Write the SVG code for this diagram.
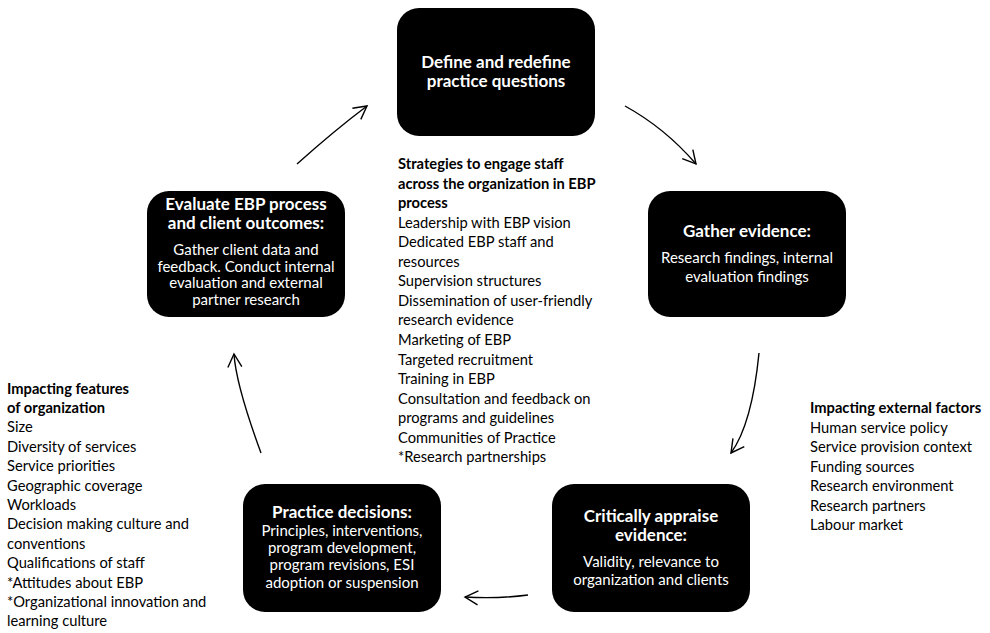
<svg xmlns="http://www.w3.org/2000/svg" width="990" height="633" viewBox="0 0 990 633">
<style>
.box{fill:#000;}
.t{font-family:Lato,"Liberation Sans",sans-serif;font-size:17px;font-weight:bold;fill:#fff;text-anchor:middle;}
.b{font-family:Lato,"Liberation Sans",sans-serif;font-size:15px;fill:#fff;text-anchor:middle;}
.s{font-family:Lato,"Liberation Sans",sans-serif;font-size:14.7px;fill:#000;}
.sb{font-weight:bold;}
.c{fill:none;stroke:#000;stroke-width:1.4;marker-end:url(#ah);}
</style>
<defs>
<marker id="ah" markerUnits="userSpaceOnUse" markerWidth="20" markerHeight="20" refX="0" refY="0" viewBox="-16 -10 20 20" orient="auto" overflow="visible">
<path d="M-13,-7 L0,0 L-13,7" fill="none" stroke="#000" stroke-width="1.4"/>
</marker>
</defs>
<rect width="990" height="633" fill="#fff"/>
<g id="connectors">
<path class="c" d="M297,164 Q335,130 367,106"/>
<path class="c" d="M625,106 Q665,128 696,164"/>
<path class="c" d="M759,353 Q752,424 731,453"/>
<path class="c" d="M528,595 Q497,599 465,597"/>
<path class="c" d="M261,453 Q236,385 234,354"/>
</g>
<g id="define">
<rect class="box" x="397" y="8" width="198" height="128" rx="22"/>
<text class="t" x="496" y="67.5">Define and redefine</text>
<text class="t" x="496" y="87">practice questions</text>
</g>
<g id="gather">
<rect class="box" x="648" y="191" width="198" height="126" rx="22"/>
<text class="t" x="747" y="237">Gather evidence:</text>
<text class="b" x="747" y="263">Research findings, internal</text>
<text class="b" x="747" y="282">evaluation findings</text>
</g>
<g id="appraise">
<rect class="box" x="552" y="484" width="198" height="128" rx="22"/>
<text class="t" x="651" y="521.5">Critically appraise</text>
<text class="t" x="651" y="540.5">evidence:</text>
<text class="b" x="651" y="567">Validity, relevance to</text>
<text class="b" x="651" y="584.5">organization and clients</text>
</g>
<g id="practice">
<rect class="box" x="243" y="484" width="198" height="128" rx="22"/>
<text class="t" x="342" y="517.5">Practice decisions:</text>
<text class="b" x="342" y="535.5">Principles, interventions,</text>
<text class="b" x="342" y="552.8">program development,</text>
<text class="b" x="342" y="570.1">program revisions, ESI</text>
<text class="b" x="342" y="587.5">adoption or suspension</text>
</g>
<g id="evaluate">
<rect class="box" x="147" y="191" width="198" height="126" rx="22"/>
<text class="t" x="246" y="209.5">Evaluate EBP process</text>
<text class="t" x="246" y="228.5">and client outcomes:</text>
<text class="b" x="246" y="255">Gather client data and</text>
<text class="b" x="246" y="271.5">feedback. Conduct internal</text>
<text class="b" x="246" y="288">evaluation and external</text>
<text class="b" x="246" y="304.5">partner research</text>
</g>
<g id="strategies">
<text class="s sb" x="398" y="169">Strategies to engage staff</text>
<text class="s sb" x="398" y="188.6">across the organization in EBP</text>
<text class="s sb" x="398" y="208.1">process</text>
<text class="s" x="398" y="227.7">Leadership with EBP vision</text>
<text class="s" x="398" y="247.2">Dedicated EBP staff and</text>
<text class="s" x="398" y="266.8">resources</text>
<text class="s" x="398" y="286.3">Supervision structures</text>
<text class="s" x="398" y="305.9">Dissemination of user-friendly</text>
<text class="s" x="398" y="325.4">research evidence</text>
<text class="s" x="398" y="345">Marketing of EBP</text>
<text class="s" x="398" y="364.5">Targeted recruitment</text>
<text class="s" x="398" y="384.1">Training in EBP</text>
<text class="s" x="398" y="403.6">Consultation and feedback on</text>
<text class="s" x="398" y="423.2">programs and guidelines</text>
<text class="s" x="398" y="442.7">Communities of Practice</text>
<text class="s" x="398" y="462.3">*Research partnerships</text>
</g>
<g id="org-features">
<text class="s sb" x="7" y="393.5">Impacting features</text>
<text class="s sb" x="7" y="412.9">of organization</text>
<text class="s" x="7" y="432.3">Size</text>
<text class="s" x="7" y="451.7">Diversity of services</text>
<text class="s" x="7" y="471.1">Service priorities</text>
<text class="s" x="7" y="490.5">Geographic coverage</text>
<text class="s" x="7" y="509.9">Workloads</text>
<text class="s" x="7" y="529.3">Decision making culture and</text>
<text class="s" x="7" y="548.7">conventions</text>
<text class="s" x="7" y="568.1">Qualifications of staff</text>
<text class="s" x="7" y="587.5">*Attitudes about EBP</text>
<text class="s" x="7" y="606.9">*Organizational innovation and</text>
<text class="s" x="7" y="626.3">learning culture</text>
</g>
<g id="external-factors">
<text class="s sb" x="810" y="413">Impacting external factors</text>
<text class="s" x="810" y="432.5">Human service policy</text>
<text class="s" x="810" y="452">Service provision context</text>
<text class="s" x="810" y="471.5">Funding sources</text>
<text class="s" x="810" y="491">Research environment</text>
<text class="s" x="810" y="510.5">Research partners</text>
<text class="s" x="810" y="530">Labour market</text>
</g>
</svg>
